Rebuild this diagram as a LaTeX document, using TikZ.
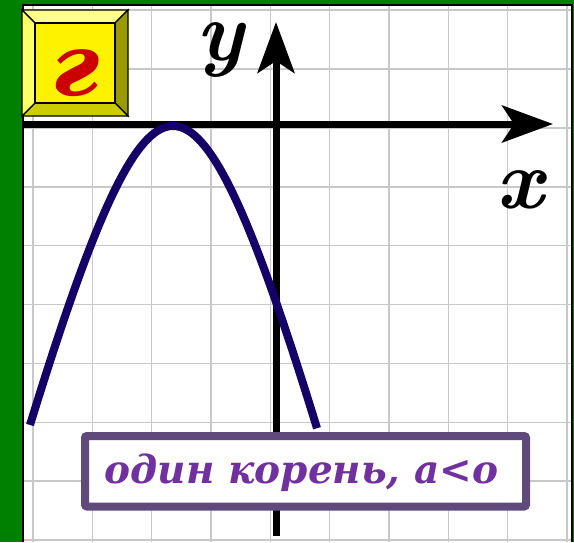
\documentclass[tikz,border=0pt]{standalone}
\usepackage{fontspec}
\usetikzlibrary{arrows.meta}
\newfontfamily\dvserif{DejaVu Serif}
\definecolor{frgreen}{RGB}{0,128,0}
\definecolor{gridgray}{RGB}{200,200,200}
\definecolor{curvenavy}{RGB}{20,0,102}
\definecolor{boxborder}{RGB}{96,74,123}
\definecolor{txtpurple}{RGB}{112,48,160}
\definecolor{bevtop}{RGB}{255,255,140}
\definecolor{bevleft}{RGB}{255,255,102}
\definecolor{bevright}{RGB}{153,153,0}
\definecolor{bevbottom}{RGB}{204,204,0}
\definecolor{letterred}{RGB}{204,0,0}
\tikzset{
  gridline/.style={draw=gridgray, line width=1.6},
  axisline/.style={black, line width=7, -{Stealth[length=51pt,width=37pt,inset=12pt]}},
  curve/.style={draw=curvenavy, line width=8},
  bevel/.style={draw=black, line width=1.2, line join=miter},
  axlabel/.style={inner sep=0, anchor=base, font=\fontsize{84}{84}\selectfont\bfseries\itshape},
}
\begin{document}
\begin{tikzpicture}[x=1pt,y=-1pt]
\useasboundingbox (0,0) rectangle (574,542);
% frame
\fill[frgreen] (0,0) rectangle (574,542);
\fill[white] (23,5) rectangle (572,542);
\foreach \i in {0,...,9} \draw[gridline] ({33+59.33*\i},5) -- ({33+59.33*\i},542);
\foreach \i in {0,...,9} \draw[gridline] (23,{10+58.9*\i}) -- (572,{10+58.9*\i});
\draw[black, line width=1.5] (23,542) -- (23,5) -- (572,5) -- (572,542);
% bevel box
\coordinate (o1) at (22,10); \coordinate (o2) at (128,10);
\coordinate (o3) at (128,116); \coordinate (o4) at (22,116);
\coordinate (i1) at (35,23); \coordinate (i2) at (115,23);
\coordinate (i3) at (115,103); \coordinate (i4) at (35,103);
\filldraw[bevel, fill=bevtop] (o1) -- (o2) -- (i2) -- (i1) -- cycle;
\filldraw[bevel, fill=bevright] (o2) -- (o3) -- (i3) -- (i2) -- cycle;
\filldraw[bevel, fill=bevbottom] (o3) -- (o4) -- (i4) -- (i3) -- cycle;
\filldraw[bevel, fill=bevleft] (o4) -- (o1) -- (i1) -- (i4) -- cycle;
\filldraw[bevel, fill=yellow] (i1) rectangle (i3);
\node[inner sep=0, anchor=base, text=letterred, font=\fontsize{86}{86}\selectfont\dvserif\bfseries\itshape] (letter) at (76,95) {г};
% axes
\coordinate (xs) at (23,124); \coordinate (xe) at (553,124);
\coordinate (ys) at (276,536); \coordinate (ye) at (276,22);
\draw[axisline] (xs) -- (xe);
\draw[axisline] (ys) -- (ye);
% curve
\draw[curve] plot[domain=-143:144, samples=121, smooth] ({173+\x},{126+370.4*(sqrt(1+(\x/95)^2)-1)});
% labels
\node[axlabel] (ylab) at (220,60) {y};
\node[axlabel] (xlab) at (520,208) {x};
% text box
\node[draw=boxborder, line width=8, fill=white, rounded corners=2, minimum width=441, minimum height=70.5, inner sep=0] (box) at (305.5,471.25) {};
\node[inner sep=0, anchor=base, text=txtpurple, font=\fontsize{39}{39}\selectfont\dvserif\bfseries\itshape] (msg) at (301.5,483) {один корень, а<о};
\end{tikzpicture}
\end{document}
